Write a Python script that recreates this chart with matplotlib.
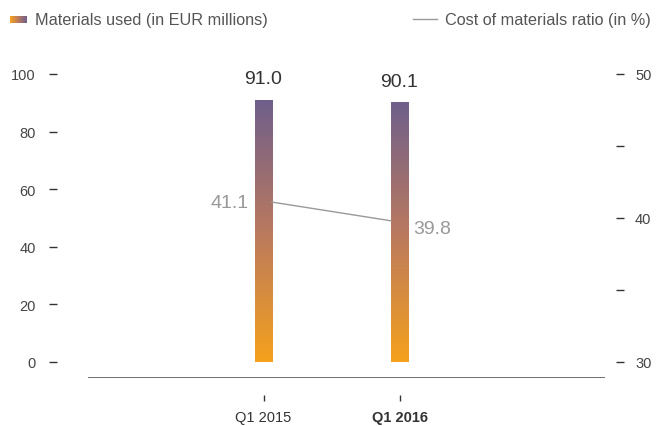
import matplotlib.pyplot as plt
import numpy as np
from matplotlib.colors import LinearSegmentedColormap
from matplotlib.lines import Line2D

plt.rcParams['font.family'] = ['Liberation Sans', 'DejaVu Sans']

quarters = ['Q1 2015', 'Q1 2016']
materials = [91.0, 90.1]
ratio = [41.1, 39.8]

W, H = 656, 427
PT = 72 / 100  # points per pixel
fig = plt.figure(figsize=(W / 100, H / 100), dpi=100)
# axes placed in pixel units
x0, x1, yb, yt = 88, 605, 379, 60
ax = fig.add_axes([x0 / W, (H - yb) / H, (x1 - x0) / W, (yb - yt) / H])

ymin, ymax = -5.6, 105.2
ax.set_ylim(ymin, ymax)
ax.set_xlim(-1.29, 2.51)

cmap = LinearSegmentedColormap.from_list('mat', ['#F5A11C', '#B9795F', '#6F5F8B'])
grad = np.linspace(0, 1, 256).reshape(-1, 1)
xs = np.arange(len(quarters))
bw = 0.125
bars = ax.bar(xs, materials, width=bw, color='none', edgecolor='none', zorder=2)
for b in bars:
    im = ax.imshow(grad, cmap=cmap, origin='lower', aspect='auto',
                   extent=[b.get_x(), b.get_x() + b.get_width(), 0, b.get_height()], zorder=2)
    im.set_clip_path(b)
for x, v in zip(xs, materials):
    ax.text(x, v + 4.5, f'{v:.1f}', ha='center', va='bottom', fontsize=14, color='#333333')

# baseline
ax.axhline(ymin + 0.01, color='#555555', lw=1.2, zorder=3)

for s in ['top', 'right', 'bottom', 'left']:
    ax.spines[s].set_visible(False)
ax.spines['left'].set_position(('outward', 31 * PT))
ax.spines['bottom'].set_position(('outward', 17 * PT))
ax.set_yticks(range(0, 101, 20))
ax.tick_params(axis='y', length=8 * PT, width=1, color='#333333', labelcolor='#444444',
               labelsize=10.5, pad=13 * PT)
ax.set_xticks(xs)
ax.set_xticklabels(quarters)
ax.tick_params(axis='x', length=6 * PT, width=1, color='#333333', labelcolor='#333333',
               labelsize=10.5, pad=9 * PT)
ax.get_xticklabels()[1].set_fontweight('bold')

ax2 = ax.twinx()
ax2.set_ylim(30 + ymin * 0.2, 30 + ymax * 0.2)
for s in ['top', 'right', 'bottom', 'left']:
    ax2.spines[s].set_visible(False)
ax2.spines['right'].set_position(('outward', 11 * PT))
ax2.set_yticks([30, 40, 50])
ax2.set_yticks([35, 45], minor=True)
ax2.tick_params(axis='y', which='both', length=8 * PT, width=1, color='#333333',
                labelcolor='#444444', labelsize=10.5, pad=11 * PT)
ax2.plot(xs + np.array([bw / 2, -bw / 2]), ratio, color='#999999', lw=1, zorder=4)
ax2.text(-0.11, ratio[0], f'{ratio[0]:.1f}', ha='right', va='center', fontsize=14, color='#999999')
ax2.text(1.1, ratio[1] - 0.55, f'{ratio[1]:.1f}', ha='left', va='center', fontsize=14, color='#999999')

# legend
lax = fig.add_axes([0, 0, 1, 1], facecolor='none')
lax.axis('off')
lax.imshow(np.linspace(0, 1, 64).reshape(1, -1), cmap=cmap, aspect='auto',
           extent=[10, 27, 24, 17])
lax.text(35, 20, 'Materials used (in EUR millions)', va='center', ha='left',
         fontsize=11.7, color='#555555')
lax.add_line(Line2D([413, 437], [20, 20], color='#999999', lw=1))
lax.text(445, 20, 'Cost of materials ratio (in %)', va='center', ha='left',
         fontsize=11.7, color='#555555')
lax.set_xlim(0, W)
lax.set_ylim(H, 0)

fig.savefig('out.png', dpi=100)
